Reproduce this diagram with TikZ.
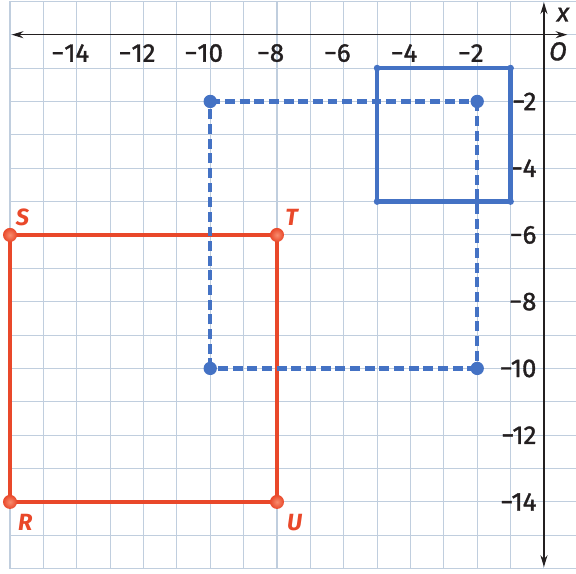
\documentclass[tikz,border=0pt]{standalone}
\usepackage{fontspec}
\setmainfont{Fira Sans}
\newfontfamily\labfont{Fira Sans}[FakeBold=1.3]
\usetikzlibrary{arrows.meta}
\definecolor{gridc}{RGB}{192,206,222}
\definecolor{redc}{RGB}{233,72,42}
\definecolor{redlight}{RGB}{248,140,110}
\definecolor{bluec}{RGB}{68,114,196}
\definecolor{txt}{RGB}{35,31,32}
\begin{document}
\begin{tikzpicture}[
  gridline/.style={gridc, line width=0.9pt},
  axisline/.style={txt, line width=1.1pt, {Stealth[length=10pt,width=6pt]}-{Stealth[length=10pt,width=6pt]}},
  ticklab/.style={txt, font=\labfont\fontsize{22}{22}\selectfont, inner sep=0pt},
  vlab/.style={redc, font=\fontsize{20}{20}\selectfont\bfseries\itshape, inner sep=0pt},
  axlab/.style={txt, font=\labfont\fontsize{22}{22}\selectfont\itshape, inner sep=0pt},
  redside/.style={redc, line width=4pt, line join=round},
  bluedash/.style={bluec, line width=3.6pt, dash pattern=on 8.5pt off 4pt},
  blueside/.style={bluec, line width=3.6pt, line join=round},
  reddot/.style={circle, inner sep=0pt, minimum size=0.42cm, inner color=redlight, outer color=redc},
  bigdot/.style={circle, inner sep=0pt, minimum size=0.4cm, fill=bluec},
  smalldot/.style={circle, inner sep=0pt, minimum size=0.2cm, fill=bluec}
]
\useasboundingbox (-16.3,-16.15) rectangle (0.96,1.04);
\clip (-16.3,-16.15) rectangle (0.96,1.04);
\draw[gridline] (-16,-16) grid (1,1);

% axes
\coordinate (xL) at (-15.95,0);
\coordinate (xR) at (0.7,0);
\coordinate (yB) at (0,-15.95);
\coordinate (yT) at (0,0.97);
\draw[axisline] (xL) -- (xR);
\draw[axisline] (yB) -- (yT);
\node[axlab] (xlab) at (0.57,0.6) {x};
\node[axlab] (olab) at (0.42,-0.5) {O};

% tick labels
\foreach \v in {14,12,...,2} {
  \node[ticklab] (xt\v) at (-\v,-0.55) {\llap{−}\v};
  \node[ticklab, anchor=east] (yt\v) at (-0.22,-\v) {−\v};
}

% red square
\coordinate (S) at (-16,-6);
\coordinate (T) at (-8,-6);
\coordinate (U) at (-8,-14);
\coordinate (R) at (-16,-14);
\draw[redside] (S) -- (T) -- (U) -- (R) -- cycle;
\foreach \p in {S,T,U,R} \node[reddot] (d\p) at (\p) {};
\node[vlab] (lS) at (-15.63,-5.46) {S};
\node[vlab] (lT) at (-7.56,-5.46) {T};
\node[vlab] (lR) at (-15.54,-14.6) {R};
\node[vlab] (lU) at (-7.47,-14.62) {U};

% blue dashed square
\coordinate (A) at (-10,-2);
\coordinate (B) at (-2,-2);
\coordinate (C) at (-2,-10);
\coordinate (D) at (-10,-10);
\draw[bluedash] (A) -- (B);
\draw[bluedash] (B) -- (C);
\draw[bluedash] (C) -- (D);
\draw[bluedash] (D) -- (A);
\foreach \p in {A,B,C,D} \node[bigdot] (d\p) at (\p) {};

% blue solid square
\coordinate (E) at (-5,-1);
\coordinate (F) at (-1,-1);
\coordinate (G) at (-1,-5);
\coordinate (H) at (-5,-5);
\draw[blueside] (E) -- (F) -- (G) -- (H) -- cycle;
\foreach \p in {E,F,G,H} \node[smalldot] (d\p) at (\p) {};
\end{tikzpicture}
\end{document}
